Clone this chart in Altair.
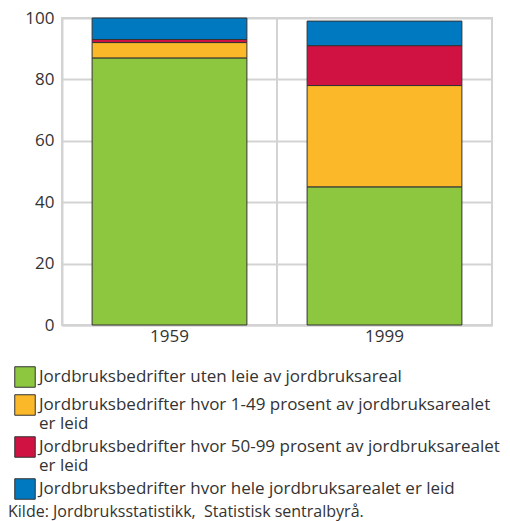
import altair as alt
import pandas as pd

years = ["1959", "1999"]
categories = [
    "Jordbruksbedrifter uten leie av jordbruksareal",
    "Jordbruksbedrifter hvor 1-49 prosent av jordbruksarealet er leid",
    "Jordbruksbedrifter hvor 50-99 prosent av jordbruksarealet er leid",
    "Jordbruksbedrifter hvor hele jordbruksarealet er leid",
]
values_1959 = [87, 5, 1, 7]
values_1999 = [45, 33, 13, 8]
colors = ["#8dc63f", "#fbb829", "#cf1242", "#0079c1"]
source = "Kilde: Jordbruksstatistikk,\u00a0 Statistisk sentralbyrå."
# boundaries between the year categories (in category-index units)
category_boundaries = [1]

rows = []
for y, vals in zip(years, [values_1959, values_1999]):
    for i, (c, v) in enumerate(zip(categories, vals)):
        rows.append({"year": y, "cat": c, "value": v, "idx": i})
df = pd.DataFrame(rows)
gdf = pd.DataFrame({"b": category_boundaries})

FONT = "Open Sans"
GRID = "#d3d3d3"
TXT = "#333333"

vgrid = alt.Chart(gdf).mark_rule(color=GRID, strokeWidth=2).encode(
    x=alt.X("b:Q", scale=alt.Scale(domain=[0, len(years)]), axis=None),
)

bars = alt.Chart(df).mark_bar(stroke=TXT, strokeWidth=1).encode(
    x=alt.X("year:N", title=None,
            scale=alt.Scale(domain=years, paddingInner=0.28, paddingOuter=0.14),
            axis=alt.Axis(labelAngle=0, grid=False, ticks=False, domainColor=GRID,
                          domainWidth=2, labelFontSize=17, labelColor=TXT,
                          labelFont=FONT, labelPadding=3)),
    y=alt.Y("value:Q", title=None, stack="zero",
            scale=alt.Scale(domain=[0, 100]),
            axis=alt.Axis(values=[0, 20, 40, 60, 80, 100], grid=True, gridColor=GRID,
                          gridWidth=2, ticks=False, domainColor=GRID, domainWidth=2,
                          labelFontSize=17, labelColor=TXT, labelFont=FONT,
                          labelPadding=8)),
    color=alt.Color("cat:N", title=None,
                    scale=alt.Scale(domain=categories, range=colors),
                    legend=alt.Legend(orient="none", legendX=-48, legendY=348,
                                      direction="vertical", symbolType="square",
                                      symbolSize=420, symbolStrokeColor=TXT,
                                      symbolStrokeWidth=1, labelFontSize=17,
                                      labelFont=FONT, labelColor=TXT,
                                      labelOffset=3, labelLimit=600, rowPadding=2,
                                      labelExpr="indexof(datum.label, 'prosent') >= 0 ? split(replace(datum.label, 'arealet er leid', 'arealet|er leid'), '|') : datum.label")),
    order=alt.Order("idx:Q", sort="ascending"),
)

src = alt.Chart(pd.DataFrame({"t": [source]})).mark_text(
    align="left", baseline="middle", fontSize=16, font=FONT, color=TXT
).encode(x=alt.value(-54), y=alt.value(494), text="t:N")

chart = alt.layer(vgrid, bars, src).resolve_scale(x="independent").properties(
    width=430, height=307,
    autosize=alt.AutoSizeParams(type="none"),
    padding={"left": 54, "top": 10, "right": 8, "bottom": 196},
).configure_view(stroke=GRID, strokeWidth=2)

chart.save("out.html", embed_options={"renderer": "svg", "actions": False})
